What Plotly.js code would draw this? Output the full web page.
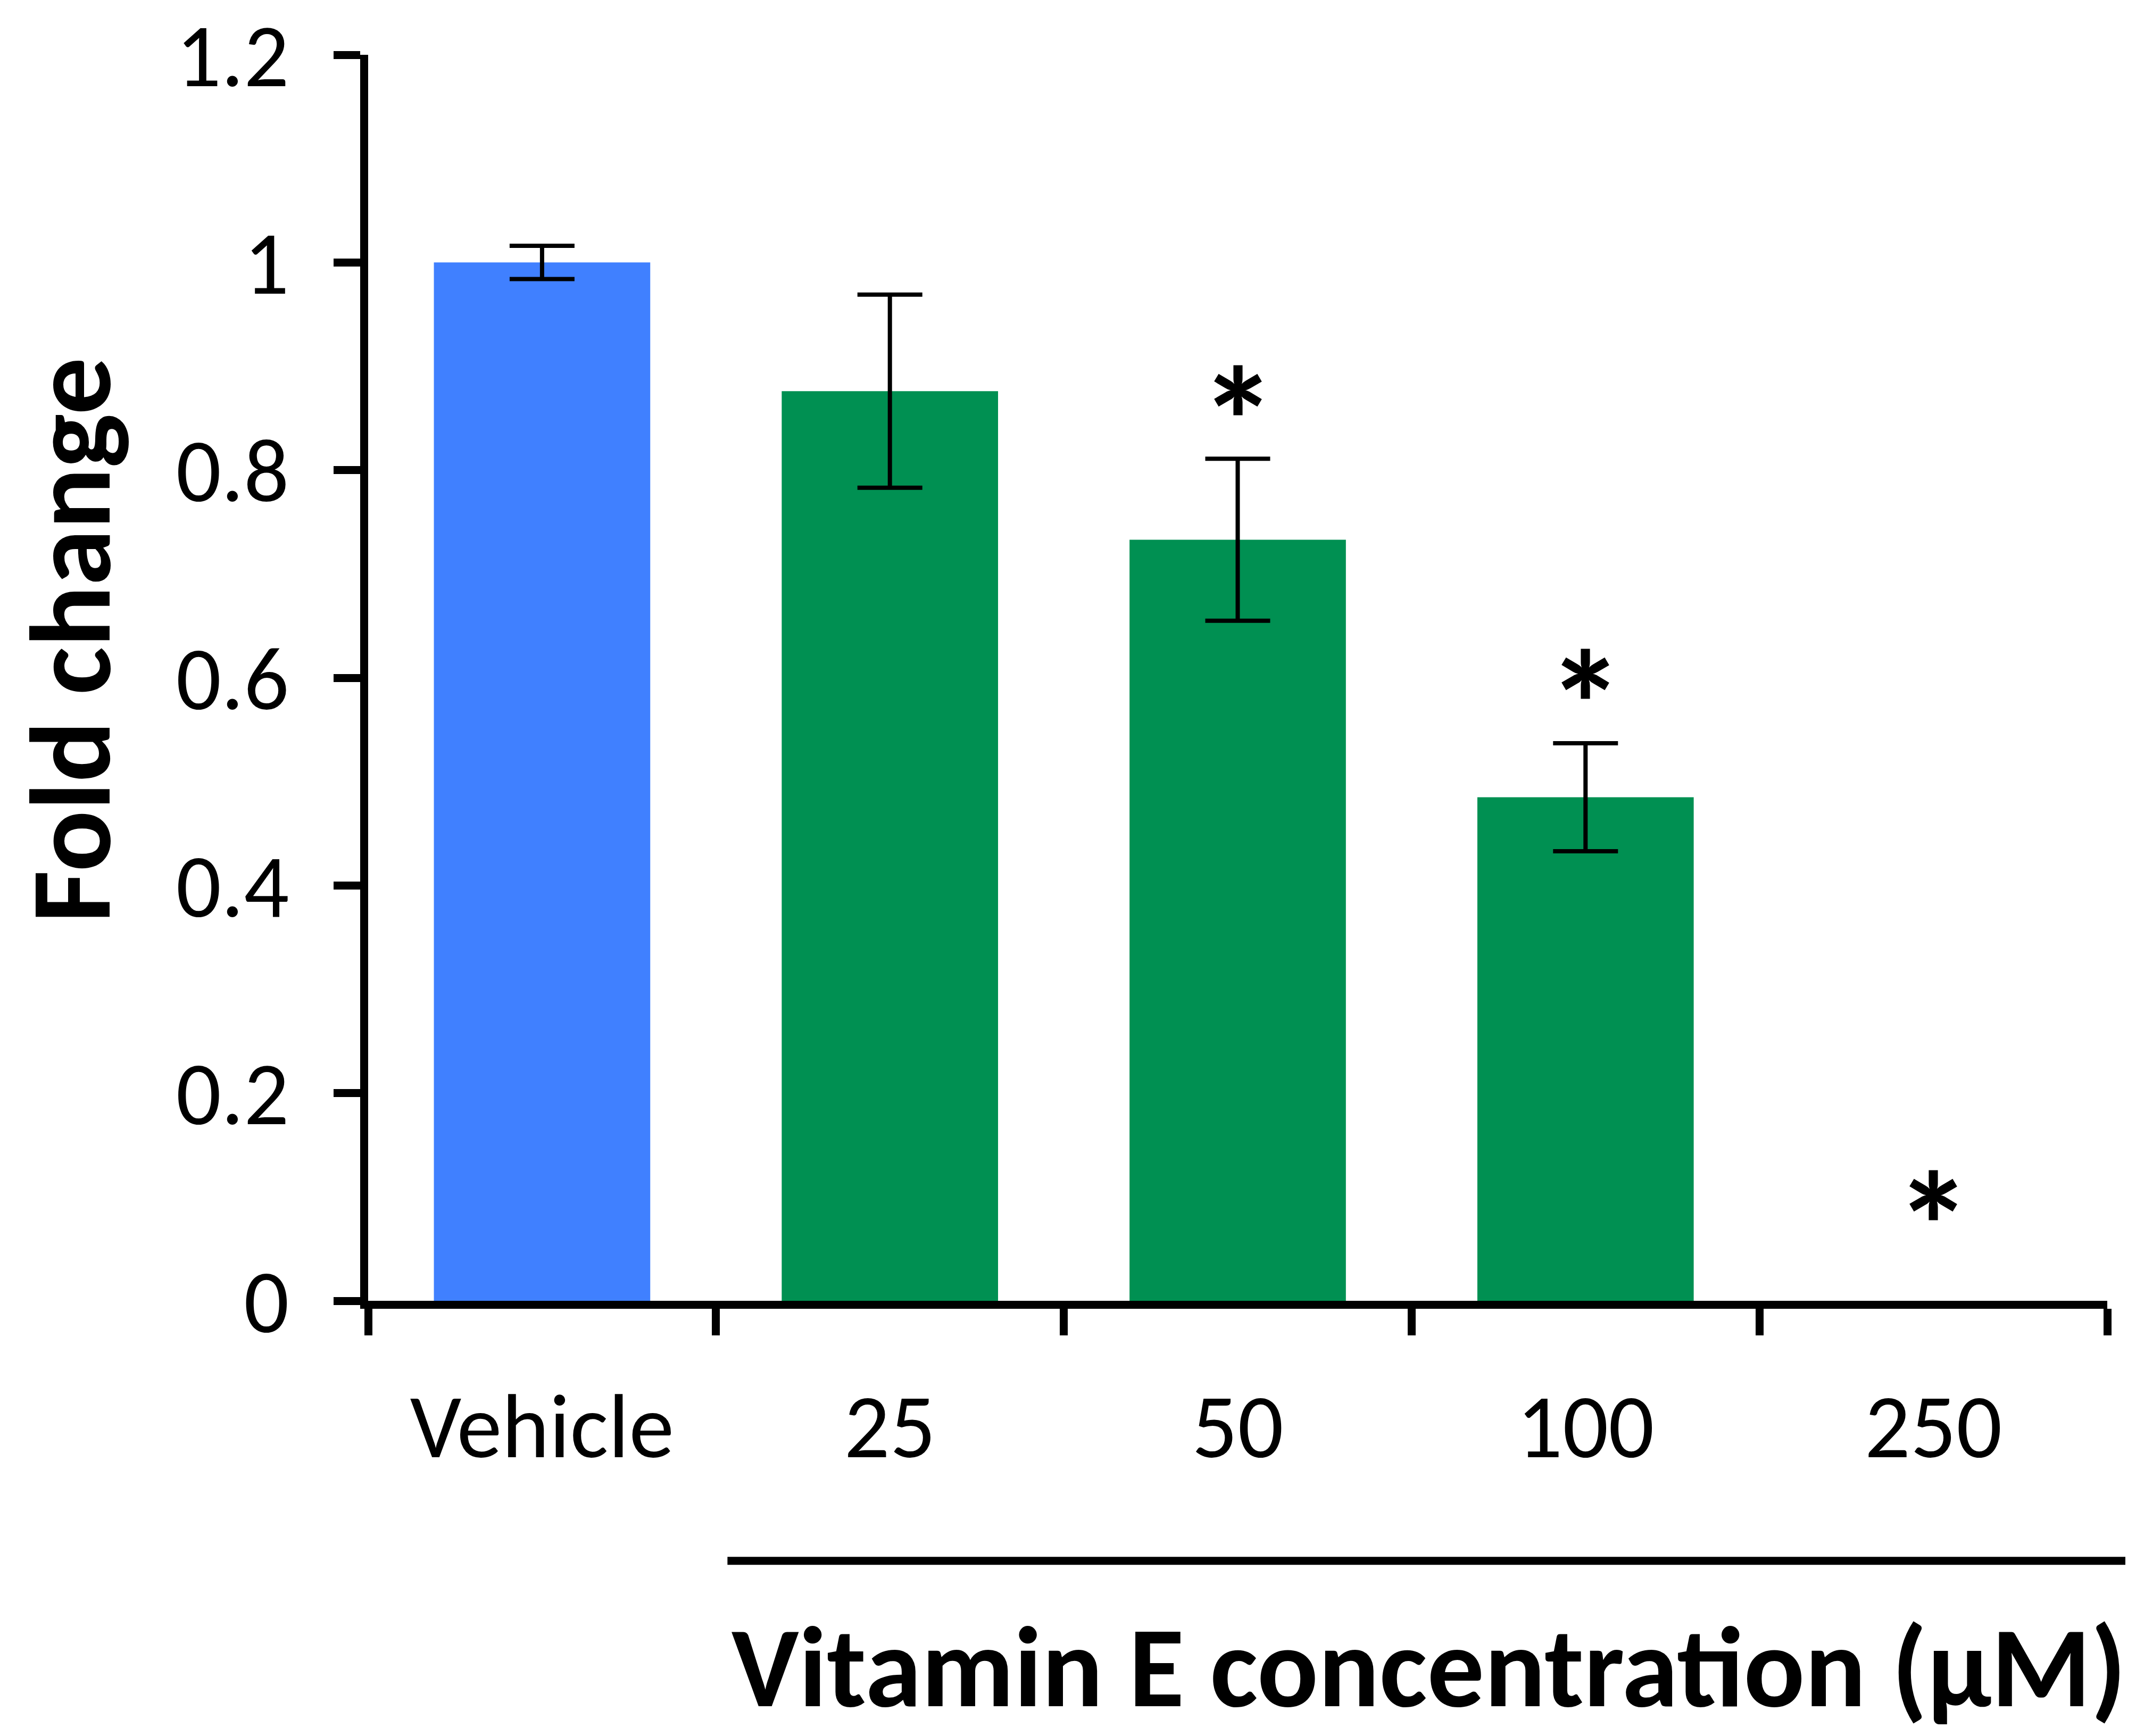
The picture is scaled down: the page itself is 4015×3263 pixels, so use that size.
<!DOCTYPE html>
<html>
<head>
<meta charset="utf-8">
<script src="https://cdn.plot.ly/plotly-3.0.1.min.js"></script>
<style>
html,body{margin:0;padding:0;background:#fff;}
#chart{width:4015px;height:3263px;}
</style>
</head>
<body>
<div id="chart"></div>
<script>
// ---- data ----
const categories = ["Vehicle", "25", "50", "100", "250"];
const foldChange = [1.0, 0.876, 0.733, 0.485, 0];
const errors = [0.016, 0.093, 0.078, 0.052, NaN];
const barColors = ["#4080FF", "#009052", "#009052", "#009052", "#009052"];
const sigMarks = ["", "", "*", "*", "*"];
const sigY = [null, null, 0.873, 0.600, 0.098];
const yTickVals = [0, 0.2, 0.4, 0.6, 0.8, 1, 1.2];
const yTickText = ["0", "0.2", "0.4", "0.6", "0.8", "1", "1.2"];
const yTitle = "Fold change";
const xTitle = "Vitamin E concentration (\u00B5M)";

const FONT = "Carlito, Lato, 'Open Sans', sans-serif";

const trace = {
  type: "bar",
  x: categories,
  y: foldChange,
  marker: {color: barColors, line: {width: 0}},
  error_y: {type: "data", array: errors, visible: true, color: "#000", thickness: 8, width: 61},
  hoverinfo: "none"
};

const annotations = [];
sigMarks.forEach((m, i) => {
  if (m) {
    annotations.push({
      x: i, y: sigY[i], xref: "x", yref: "y",
      text: "<b>" + m + "</b>", showarrow: false, xanchor: "center", yanchor: "middle",
      yshift: -54,
      font: {family: FONT, size: 290, color: "#000"}
    });
  }
});
annotations.push({
  text: "<b>" + yTitle + "</b>", xref: "paper", yref: "paper",
  x: -0.171, y: 0.530, textangle: -90, showarrow: false,
  xanchor: "center", yanchor: "middle",
  font: {family: FONT, size: 215, color: "#000"}
});
annotations.push({
  text: "<b>" + xTitle + "</b>", xref: "paper", yref: "paper",
  x: 0.610, y: -0.294, showarrow: false,
  xanchor: "center", yanchor: "middle",
  font: {family: FONT, size: 214, color: "#000"}
});

const layout = {
  width: 4015, height: 3263,
  margin: {l: 692, r: 54, t: 103, b: 818},
  paper_bgcolor: "#fff", plot_bgcolor: "#fff",
  showlegend: false,
  bargap: 0.378,
  xaxis: {
    type: "category",
    range: [-0.5, 4.5],
    tickson: "boundaries",
    ticks: "outside", ticklen: 50, tickwidth: 15, tickcolor: "#000",
    showline: true, linewidth: 15, linecolor: "#000",
    showgrid: false, zeroline: false,
    ticklabelstandoff: 75,
    tickfont: {family: FONT, size: 170, color: "#000"}
  },
  yaxis: {
    range: [0, 1.2],
    tickvals: yTickVals, ticktext: yTickText,
    ticks: "outside", ticklen: 50, tickwidth: 15, tickcolor: "#000",
    showline: true, linewidth: 15, linecolor: "#000",
    showgrid: false, zeroline: false,
    ticklabelstandoff: 50,
    tickfont: {family: FONT, size: 168, color: "#000"}
  },
  shapes: [{
    type: "line", xref: "paper", yref: "paper",
    x0: 0.2066, x1: 1.0104, y0: -0.2087, y1: -0.2087,
    line: {color: "#000", width: 15}
  }],
  annotations: annotations
};

Plotly.newPlot("chart", [trace], layout, {staticPlot: true});
</script>
</body>
</html>
